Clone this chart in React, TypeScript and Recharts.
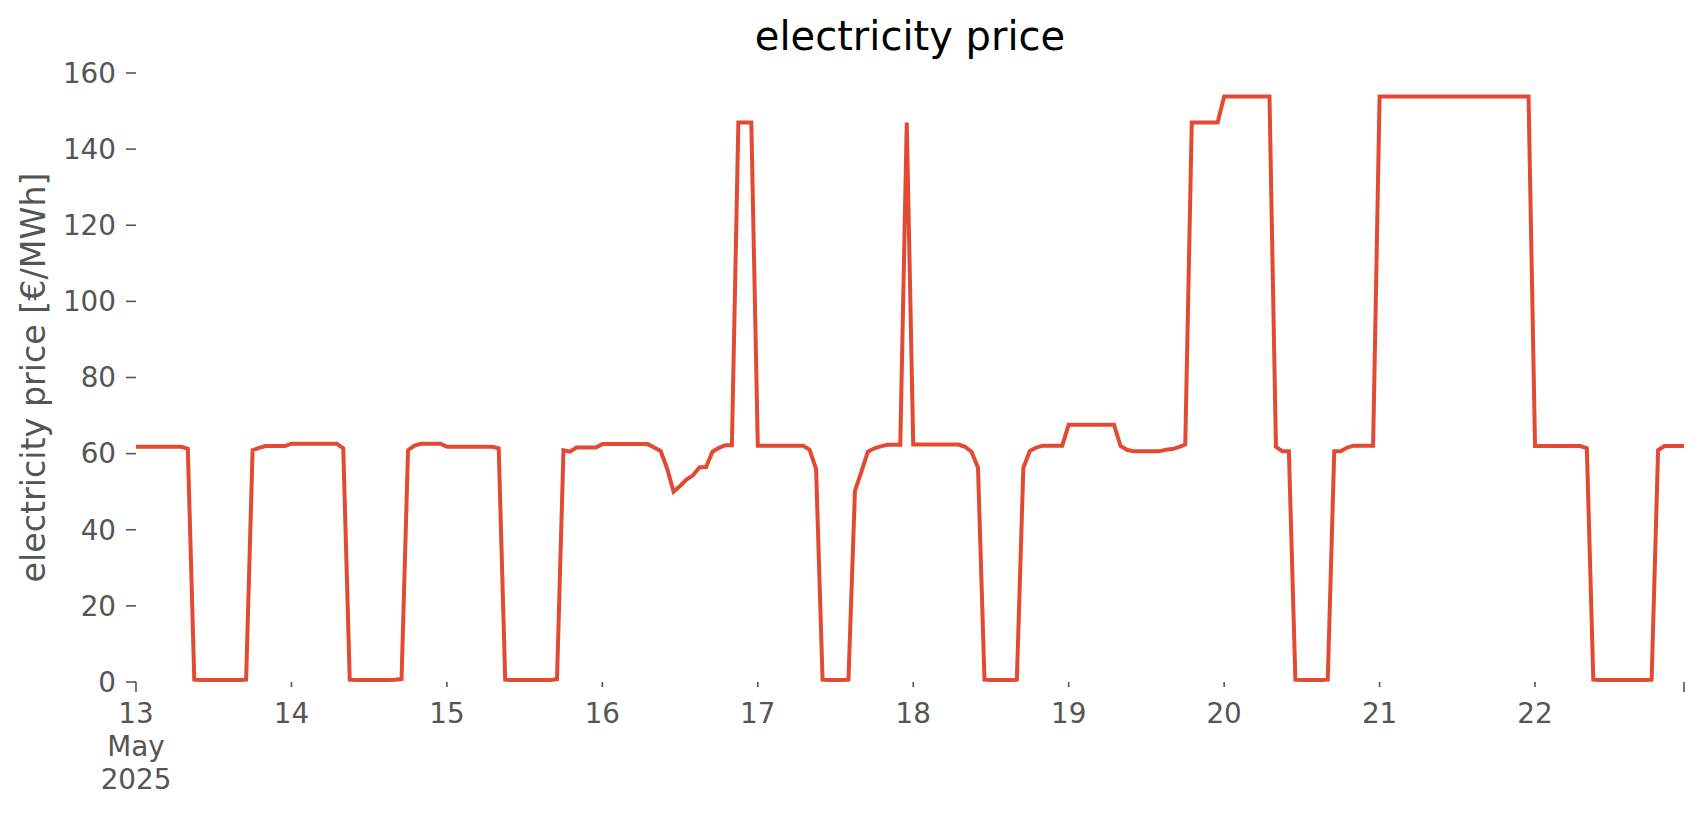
import React from 'react';
import { LineChart, Line, XAxis, YAxis } from 'recharts';

// hourly day-ahead price per day [€/MWh], 00:00 .. 23:00
const may13 = [61.8, 61.8, 61.8, 61.8, 61.8, 61.8, 61.8, 61.8, 61.3, 0.6, 0.5, 0.5, 0.5, 0.5, 0.5, 0.5, 0.5, 0.6, 60.9, 61.5, 62.0, 62.0, 62.0, 62.0];
const may14 = [62.6, 62.6, 62.6, 62.6, 62.6, 62.6, 62.6, 62.6, 61.4, 0.6, 0.5, 0.5, 0.5, 0.5, 0.5, 0.5, 0.6, 0.8, 60.9, 62.1, 62.6, 62.6, 62.6, 62.6];
const may15 = [61.8, 61.8, 61.8, 61.8, 61.8, 61.8, 61.8, 61.8, 61.4, 0.6, 0.5, 0.5, 0.5, 0.5, 0.5, 0.5, 0.5, 0.7, 60.9, 60.5, 61.6, 61.6, 61.6, 61.6];
const may16 = [62.5, 62.5, 62.5, 62.5, 62.5, 62.5, 62.5, 62.5, 61.6, 60.7, 56.1, 50.0, 51.5, 53.2, 54.3, 56.4, 56.4, 60.5, 61.5, 62.2, 62.2, 147.0, 147.0, 147.0];
const may17 = [62.1, 62.1, 62.1, 62.1, 62.1, 62.1, 62.1, 62.1, 61.0, 56.0, 0.6, 0.5, 0.5, 0.5, 0.6, 50.2, 55.3, 60.5, 61.4, 61.9, 62.3, 62.3, 62.3, 147.0];
const may18 = [62.4, 62.4, 62.4, 62.4, 62.4, 62.4, 62.4, 62.4, 61.8, 60.5, 56.3, 0.6, 0.5, 0.5, 0.5, 0.5, 0.6, 56.3, 60.7, 61.6, 62.1, 62.1, 62.1, 62.1];
const may19 = [67.6, 67.6, 67.6, 67.6, 67.6, 67.6, 67.6, 67.6, 62.0, 61.0, 60.6, 60.6, 60.6, 60.6, 60.6, 61.0, 61.2, 61.7, 62.4, 147.0, 147.0, 147.0, 147.0, 147.0];
const may20 = [153.8, 153.8, 153.8, 153.8, 153.8, 153.8, 153.8, 153.8, 61.8, 60.6, 60.6, 0.6, 0.5, 0.5, 0.5, 0.5, 0.6, 60.6, 60.6, 61.6, 62.1, 62.1, 62.1, 62.1];
const may21 = [153.8, 153.8, 153.8, 153.8, 153.8, 153.8, 153.8, 153.8, 153.8, 153.8, 153.8, 153.8, 153.8, 153.8, 153.8, 153.8, 153.8, 153.8, 153.8, 153.8, 153.8, 153.8, 153.8, 153.8];
const may22 = [62.0, 62.0, 62.0, 62.0, 62.0, 62.0, 62.0, 62.0, 61.4, 0.6, 0.5, 0.5, 0.5, 0.5, 0.5, 0.5, 0.5, 0.5, 0.6, 60.9, 62.0, 62.0, 62.0, 62.0];

const dayLabels = ['13', '14', '15', '16', '17', '18', '19', '20', '21', '22'];
const firstDayLabel = ['13', 'May', '2025'];
const yTicks = [0, 20, 40, 60, 80, 100, 120, 140, 160];

const dailyPrices = [may13, may14, may15, may16, may17, may18, may19, may20, may21, may22];

const data = dailyPrices.flatMap((day, d) =>
  day.map((price, h) => ({ t: d * 24 + h, price }))
);
const lastHour = data.length - 1;
const xTicks = [...dayLabels.map((_, i) => i * 24), lastHour];

const FONT = '"DejaVu Sans", sans-serif';
const GREY = '#555555';

const DayTick = (props: any) => {
  const { x, y, payload } = props;
  const v = payload.value;
  const major = v === 0 || v === lastHour;
  let lines: string[] = [];
  if (v === 0) lines = firstDayLabel;
  else if (v % 24 === 0) lines = [dayLabels[v / 24]];
  return (
    <g>
      <line x1={x} x2={x} y1={y} y2={y + (major ? 10 : 5)} stroke={GREY} strokeWidth={1.6} />
      <text x={x} y={y + 41} textAnchor="middle" fill={GREY} fontSize={27.8} fontFamily={FONT}>
        {lines.map((l, i) => (
          <tspan key={i} x={x} dy={i === 0 ? 0 : 33}>{l}</tspan>
        ))}
      </text>
    </g>
  );
};

const YLabel = (props: any) => {
  const vb = props.viewBox || {};
  const cx = 45;
  const cy = (vb.y ?? 73) + (vb.height ?? 609) / 2;
  return (
    <text x={cx} y={cy} transform={`rotate(-90, ${cx}, ${cy})`} textAnchor="middle"
      fill={GREY} fontSize={33.3} fontFamily={FONT}>
      electricity price [€/MWh]
    </text>
  );
};

export default function App() {
  return (
    <div style={{ position: 'absolute', left: 0, top: 0, width: 1706, height: 815, background: '#fff' }}>
      <div style={{
        position: 'absolute', left: 0, width: 1820, top: 13, textAlign: 'center',
        fontFamily: FONT, fontSize: 40, lineHeight: '46px', color: '#000'
      }}>
        electricity price
      </div>
      <LineChart width={1706} height={815} data={data}
        margin={{ top: 73, right: 22, bottom: 0, left: 0 }}>
        <XAxis dataKey="t" type="number" domain={[0, lastHour]} ticks={xTicks}
          axisLine={false} tickLine={false} tickSize={0} tickMargin={0}
          height={133} tick={<DayTick />} interval={0} allowDataOverflow />
        <YAxis type="number" domain={[0, 160]} ticks={yTicks} width={136}
          axisLine={false} tickSize={10} tickMargin={10} interval={0}
          tickLine={{ stroke: GREY, strokeWidth: 1.6 }}
          tick={{ fill: GREY, fontSize: 27.8, fontFamily: FONT }}
          label={<YLabel />} />
        <Line type="linear" dataKey="price" stroke="#E24A33" strokeWidth={4}
          dot={false} isAnimationActive={false} />
      </LineChart>
    </div>
  );
}
